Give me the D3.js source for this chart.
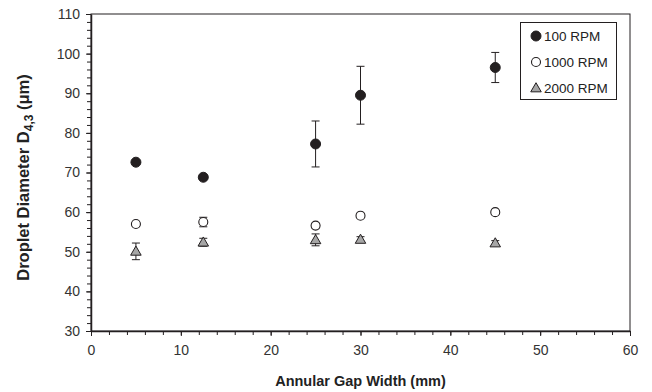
<!DOCTYPE html>
<html><head><meta charset="utf-8">
<script src="https://cdn.jsdelivr.net/npm/d3@7"></script>
<style>html,body{margin:0;padding:0;background:#fff;}svg{display:block;font-family:"Liberation Sans",Arial,sans-serif;}</style>
</head><body>
<svg id="chart" width="652" height="392"></svg>
<script>
const gapWidths = [5, 12.5, 25, 30, 45];
const seriesNames = ["100 RPM", "1000 RPM", "2000 RPM"];
const rpm100 = [72.6, 68.8, 77.2, 89.5, 96.5];
const rpm100Err = [0.4, 0.4, 5.8, 7.3, 3.8];
const rpm1000 = [57.0, 57.5, 56.6, 59.1, 60.0];
const rpm1000Err = [0.5, 1.2, 0.6, 0.4, 0.4];
const rpm2000 = [50.1, 52.4, 53.0, 53.1, 52.2];
const rpm2000Err = [2.1, 1.0, 1.5, 0.7, 0.6];
const xTicks = [0, 10, 20, 30, 40, 50, 60];
const yTicks = [30, 40, 50, 60, 70, 80, 90, 100, 110];

const ink = "#231f20";
const svg = d3.select("#chart");
const m = {l: 91, t: 14, r: 22, b: 61};
const W = 652, H = 392;
const x = d3.scaleLinear().domain([0, 60]).range([m.l, W - m.r]);
const y = d3.scaleLinear().domain([30, 110]).range([H - m.b, m.t]);

// frame
svg.append("rect").attr("x", x(0)).attr("y", y(110)).attr("width", x(60) - x(0)).attr("height", y(30) - y(110))
  .attr("fill", "none").attr("stroke", ink).attr("stroke-width", 1);

// minor ticks
const xMinor = d3.range(0, 61, 2);
const yMinor = d3.range(30, 111, 2);
svg.append("g").attr("transform", `translate(0,${y(30)})`)
  .call(d3.axisBottom(x).tickValues(xMinor).tickSize(4).tickFormat(""))
  .call(g => g.select(".domain").remove())
  .call(g => g.selectAll("line").attr("stroke", ink));
svg.append("g").attr("transform", `translate(${x(0)},0)`)
  .call(d3.axisLeft(y).tickValues(yMinor).tickSize(4).tickFormat(""))
  .call(g => g.select(".domain").remove())
  .call(g => g.selectAll("line").attr("stroke", ink));

// major axes
const xAxis = svg.append("g").attr("transform", `translate(0,${y(30)})`)
  .call(d3.axisBottom(x).tickValues(xTicks).tickSize(5).tickPadding(9).tickSizeOuter(0));
const yAxis = svg.append("g").attr("transform", `translate(${x(0)},0)`)
  .call(d3.axisLeft(y).tickValues(yTicks).tickSize(5).tickPadding(6).tickSizeOuter(0));
[xAxis, yAxis].forEach(a => {
  a.select(".domain").attr("stroke", ink).attr("stroke-width", 1.5);
  a.selectAll("line").attr("stroke", ink);
  a.selectAll("text").attr("font-size", 14).attr("fill", "#333")
    .attr("font-family", "'Liberation Sans', Arial, sans-serif");
});

// titles
svg.append("text").attr("x", (x(0) + x(60)) / 2).attr("y", 386).attr("text-anchor", "middle")
  .attr("font-size", 14.5).attr("font-weight", "bold").attr("fill", "#222").text("Annular Gap Width (mm)");
const yt = svg.append("text").attr("transform", `translate(29,${(y(30) + y(110)) / 2 + 5}) rotate(-90)`)
  .attr("text-anchor", "middle").attr("font-size", 16.5).attr("font-weight", "bold").attr("fill", "#222");
yt.append("tspan").text("Droplet Diameter D");
yt.append("tspan").attr("font-size", 12).attr("dy", 4).text("4,3");
yt.append("tspan").attr("dy", -4).text(" (μm)");

// error bars
function errorBars(vals, errs) {
  const g = svg.append("g").attr("stroke", ink).attr("stroke-width", 1);
  gapWidths.forEach((gx, i) => {
    const cx = x(gx), lo = y(vals[i] - errs[i]), hi = y(vals[i] + errs[i]);
    g.append("line").attr("x1", cx).attr("x2", cx).attr("y1", lo).attr("y2", hi);
    g.append("line").attr("x1", cx - 4).attr("x2", cx + 4).attr("y1", lo).attr("y2", lo);
    g.append("line").attr("x1", cx - 4).attr("x2", cx + 4).attr("y1", hi).attr("y2", hi);
  });
}
errorBars(rpm100, rpm100Err);
errorBars(rpm1000, rpm1000Err);
errorBars(rpm2000, rpm2000Err);

const tri = d3.symbol().type(d3.symbolTriangle).size(48);
function drawMarker(g, type, cx, cy) {
  if (type === 0) g.append("circle").attr("cx", cx).attr("cy", cy).attr("r", 5).attr("fill", ink).attr("stroke", ink);
  else if (type === 1) g.append("circle").attr("cx", cx).attr("cy", cy).attr("r", 4.5).attr("fill", "#fff").attr("stroke", ink).attr("stroke-width", 1.1);
  else g.append("path").attr("d", tri).attr("transform", `translate(${cx},${cy + 0.8})`).attr("fill", "#a6a6a6").attr("stroke", ink).attr("stroke-width", 1);
}
const mg = svg.append("g");
[rpm100, rpm1000, rpm2000].forEach((vals, s) => {
  gapWidths.forEach((gx, i) => drawMarker(mg, s, x(gx), y(vals[i])));
});

// legend
const lg = svg.append("g");
lg.append("rect").attr("x", 520.5).attr("y", 22.5).attr("width", 96).attr("height", 77)
  .attr("fill", "#fff").attr("stroke", ink).attr("stroke-width", 1);
seriesNames.forEach((name, s) => {
  const ry = 36 + s * 26;
  drawMarker(lg, s, 536, ry);
  lg.append("text").attr("x", 544).attr("y", ry + 5).attr("font-size", 13.5).attr("fill", "#222").text(name);
});
</script>
</body></html>
